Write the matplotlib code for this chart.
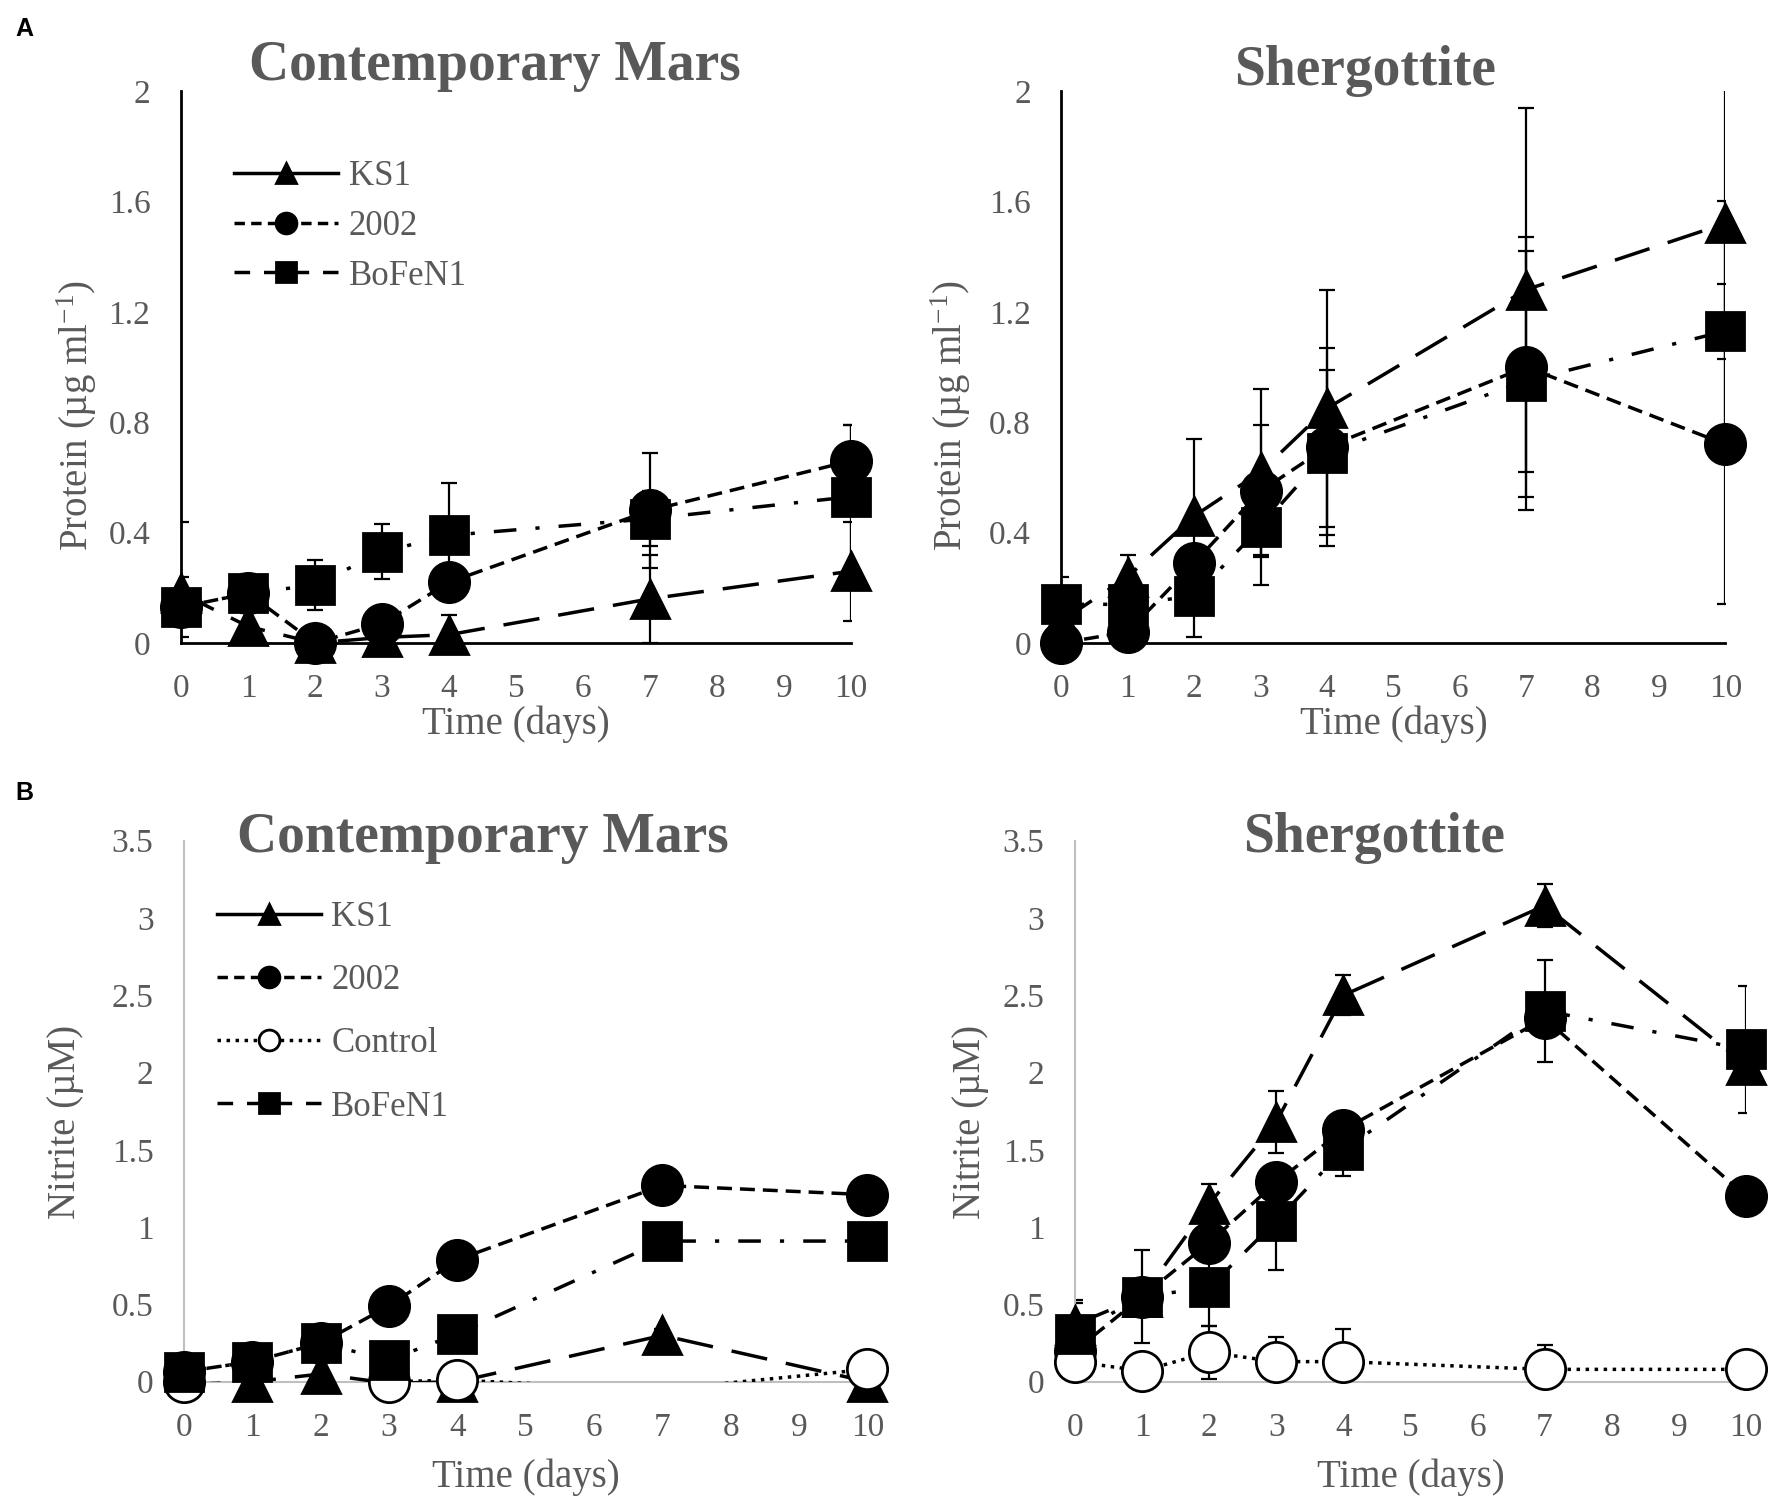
import matplotlib
matplotlib.use("Agg")
import matplotlib.pyplot as plt
from matplotlib.lines import Line2D

# sampling days
days = [0, 1, 2, 3, 4, 7, 10]
x_ticks = [0, 1, 2, 3, 4, 5, 6, 7, 8, 9, 10]

# A - protein (ug/ml), contemporary Mars
prot_mars_ks1 = [0.18, 0.06, 0.00, 0.02, 0.03, 0.16, 0.26]
prot_mars_ks1_err = [0.26, 0.06, 0.02, 0.02, 0.07, 0.16, 0.18]
prot_mars_2002 = [0.13, 0.18, 0.00, 0.07, 0.22, 0.48, 0.66]
prot_mars_2002_err = [0.02, 0.02, 0.02, 0.02, 0.02, 0.21, 0.13]
prot_mars_bofen = [0.13, 0.18, 0.21, 0.33, 0.39, 0.45, 0.53]
prot_mars_bofen_err = [0.11, 0.07, 0.09, 0.10, 0.19, 0.10, 0.26]

# A - protein (ug/ml), shergottite
prot_sher_ks1 = [0.08, 0.24, 0.46, 0.62, 0.85, 1.28, 1.52]
prot_sher_ks1_err = [0.05, 0.08, 0.28, 0.30, 0.43, 0.66, 0.49]
prot_sher_2002 = [0.00, 0.04, 0.29, 0.55, 0.71, 1.00, 0.72]
prot_sher_2002_err = [0.02, 0.02, 0.02, 0.24, 0.36, 0.47, 0.58]
prot_sher_bofen = [0.14, 0.14, 0.17, 0.42, 0.69, 0.95, 1.13]
prot_sher_bofen_err = [0.10, 0.05, 0.15, 0.21, 0.30, 0.47, 0.47]

# B - nitrite (uM), contemporary Mars (values below 0 get no marker, as in Excel)
nit_mars_ks1 = [-0.02, 0.00, 0.05, -0.01, 0.00, 0.30, 0.00]
nit_mars_ks1_err = [0.01, 0.01, 0.02, 0.01, 0.01, 0.04, 0.01]
nit_mars_2002 = [0.065, 0.13, 0.25, 0.49, 0.79, 1.27, 1.21]
nit_mars_2002_err = [0.01, 0.01, 0.02, 0.03, 0.08, 0.03, 0.03]
nit_mars_ctrl = [0.00, -0.03, -0.03, 0.00, 0.01, -0.05, 0.08]
nit_mars_ctrl_err = [0.01, 0.01, 0.01, 0.01, 0.01, 0.01, 0.01]
nit_mars_bofen = [0.065, 0.13, 0.25, 0.14, 0.31, 0.91, 0.91]
nit_mars_bofen_err = [0.01, 0.01, 0.02, 0.02, 0.03, 0.03, 0.06]

# B - nitrite (uM), shergottite
nit_sher_ks1 = [0.37, 0.55, 1.15, 1.68, 2.50, 3.08, 2.05]
nit_sher_ks1_err = [0.14, 0.05, 0.13, 0.20, 0.13, 0.14, 0.10]
nit_sher_2002 = [0.20, 0.55, 0.90, 1.29, 1.63, 2.35, 1.20]
nit_sher_2002_err = [0.05, 0.05, 0.05, 0.05, 0.05, 0.05, 0.05]
nit_sher_ctrl = [0.13, 0.07, 0.19, 0.13, 0.13, 0.08, 0.08]
nit_sher_ctrl_err = [0.05, 0.05, 0.17, 0.16, 0.21, 0.16, 0.02]
nit_sher_bofen = [0.31, 0.55, 0.61, 1.04, 1.50, 2.40, 2.15]
nit_sher_bofen_err = [0.22, 0.30, 0.25, 0.32, 0.17, 0.33, 0.41]

prot_ticks = [0, 0.4, 0.8, 1.2, 1.6, 2]
prot_tick_labels = ["0", "0.4", "0.8", "1.2", "1.6", "2"]
nit_ticks = [0, 0.5, 1, 1.5, 2, 2.5, 3, 3.5]
nit_tick_labels = ["0", "0.5", "1", "1.5", "2", "2.5", "3", "3.5"]

plt.rcParams["font.family"] = ["Liberation Serif", "DejaVu Serif"]
plt.rcParams["mathtext.fontset"] = "custom"
plt.rcParams["mathtext.rm"] = "Liberation Serif"
plt.rcParams["mathtext.default"] = "regular"

GRAY = "#595959"
LW = 2.5

STYLES = {
    "KS1": dict(marker="^", ls=(0, (10.5, 5.5)), ms=28, mfc="black"),
    "2002": dict(marker="o", ls=(0, (4.3, 2.3)), ms=29, mfc="black"),
    "Control": dict(marker="o", ls=(0, (1, 1.6)), ms=29, mfc="white"),
    "BoFeN1": dict(marker="s", ls=(0, (6.5, 5.5, 1.2, 5.5)), ms=28, mfc="black"),
}
LEGEND_LS = {
    "KS1": "-",
    "2002": (0, (3.0, 1.8)),
    "Control": (0, (1, 1.6)),
    "BoFeN1": (0, (4.5, 4.0)),
}


def draw_panel(ax, series, ymax, ticks, tick_labels, axis_color, axis_lw):
    for name, vals, err in series:
        ax.errorbar(days, vals, yerr=err, fmt="none", ecolor="black",
                    elinewidth=1.6, capsize=6, capthick=1.6, zorder=2)
    for name, vals, err in series:
        st = STYLES[name]
        # line is clipped to the plot area, markers below zero are dropped
        ax.plot(days, vals, color="black", lw=LW, linestyle=st["ls"], zorder=3)
        shown = [v if v >= 0 else float("nan") for v in vals]
        ax.plot(days, shown, linestyle="none",
                marker=st["marker"], markersize=st["ms"],
                markerfacecolor=st["mfc"], markeredgecolor="black",
                markeredgewidth=2, clip_on=False, zorder=3)
    ax.set_xlim(0, 10)
    ax.set_ylim(0, ymax)
    ax.set_xticks(x_ticks)
    ax.set_xticklabels([str(t) for t in x_ticks])
    ax.set_yticks(ticks)
    ax.set_yticklabels(tick_labels)
    ax.tick_params(length=0, labelsize=24, labelcolor=GRAY)
    ax.tick_params(axis="x", pad=22)
    ax.tick_params(axis="y", pad=22)
    for side in ["top", "right"]:
        ax.spines[side].set_visible(False)
    for side in ["left", "bottom"]:
        ax.spines[side].set_color(axis_color)
        ax.spines[side].set_linewidth(axis_lw)


def add_legend(ax, names, anchor, spacing):
    handles = []
    for name in names:
        st = STYLES[name]
        handles.append(Line2D([], [], color="black", lw=LW, linestyle=LEGEND_LS[name],
                              marker=st["marker"], markersize=15,
                              markerfacecolor=st["mfc"], markeredgecolor="black",
                              markeredgewidth=2))
    ax.legend(handles, names, loc="upper left", bbox_to_anchor=anchor,
              bbox_transform=fig.transFigure, frameon=False, fontsize=25,
              labelcolor=GRAY, handlelength=3.0, handletextpad=0.3,
              labelspacing=spacing, borderpad=0, borderaxespad=0)


fig = plt.figure(figsize=(17.75, 15.04), dpi=100)

ax1 = fig.add_axes([0.102, 0.5725, 0.3775, 0.367])
ax2 = fig.add_axes([0.598, 0.5725, 0.374, 0.367])
ax3 = fig.add_axes([0.1037, 0.0813, 0.385, 0.3597])
ax4 = fig.add_axes([0.6056, 0.0813, 0.378, 0.3597])

draw_panel(ax1, [("KS1", prot_mars_ks1, prot_mars_ks1_err),
                 ("2002", prot_mars_2002, prot_mars_2002_err),
                 ("BoFeN1", prot_mars_bofen, prot_mars_bofen_err)],
           2, prot_ticks, prot_tick_labels, "black", 2.0)
draw_panel(ax2, [("KS1", prot_sher_ks1, prot_sher_ks1_err),
                 ("2002", prot_sher_2002, prot_sher_2002_err),
                 ("BoFeN1", prot_sher_bofen, prot_sher_bofen_err)],
           2, prot_ticks, prot_tick_labels, "black", 2.0)
draw_panel(ax3, [("KS1", nit_mars_ks1, nit_mars_ks1_err),
                 ("2002", nit_mars_2002, nit_mars_2002_err),
                 ("Control", nit_mars_ctrl, nit_mars_ctrl_err),
                 ("BoFeN1", nit_mars_bofen, nit_mars_bofen_err)],
           3.5, nit_ticks, nit_tick_labels, "#bfbfbf", 1.5)
draw_panel(ax4, [("KS1", nit_sher_ks1, nit_sher_ks1_err),
                 ("2002", nit_sher_2002, nit_sher_2002_err),
                 ("Control", nit_sher_ctrl, nit_sher_ctrl_err),
                 ("BoFeN1", nit_sher_bofen, nit_sher_bofen_err)],
           3.5, nit_ticks, nit_tick_labels, "#bfbfbf", 1.5)

# axis labels
for ax, ylab, ypos, yc, xpos in [(ax1, "Protein (µg ml$^{-1}$)", -0.155, 0.413, -0.147),
                                 (ax2, "Protein (µg ml$^{-1}$)", -0.167, 0.413, -0.147),
                                 (ax3, "Nitrite (µM)", -0.174, 0.48, -0.177),
                                 (ax4, "Nitrite (µM)", -0.155, 0.48, -0.177)]:
    ax.set_ylabel(ylab, fontsize=28, color=GRAY)
    ax.yaxis.set_label_coords(ypos, yc)
    ax.yaxis.label.set_verticalalignment("center")
    ax.set_xlabel("Time (days)", fontsize=28, color=GRAY)
    ax.xaxis.set_label_coords(0.5, xpos)
    ax.xaxis.label.set_verticalalignment("center")

add_legend(ax1, ["KS1", "2002", "BoFeN1"], (0.132, 0.8935), 0.48)
add_legend(ax3, ["KS1", "2002", "Control", "BoFeN1"], (0.122, 0.401), 0.87)

# panel titles
fig.text(0.279, 0.956, "Contemporary Mars", fontsize=40, fontweight="bold",
         color=GRAY, ha="center", va="center")
fig.text(0.769, 0.953, "Shergottite", fontsize=40, fontweight="bold",
         color=GRAY, ha="center", va="center")
fig.text(0.272, 0.443, "Contemporary Mars", fontsize=40, fontweight="bold",
         color=GRAY, ha="center", va="center")
fig.text(0.774, 0.443, "Shergottite", fontsize=40, fontweight="bold",
         color=GRAY, ha="center", va="center")

fig.text(0.014, 0.981, "A", fontsize=18, fontweight="bold",
         family="Liberation Sans", ha="center", va="center")
fig.text(0.014, 0.473, "B", fontsize=18, fontweight="bold",
         family="Liberation Sans", ha="center", va="center")

fig.savefig("out.png", dpi=100)
